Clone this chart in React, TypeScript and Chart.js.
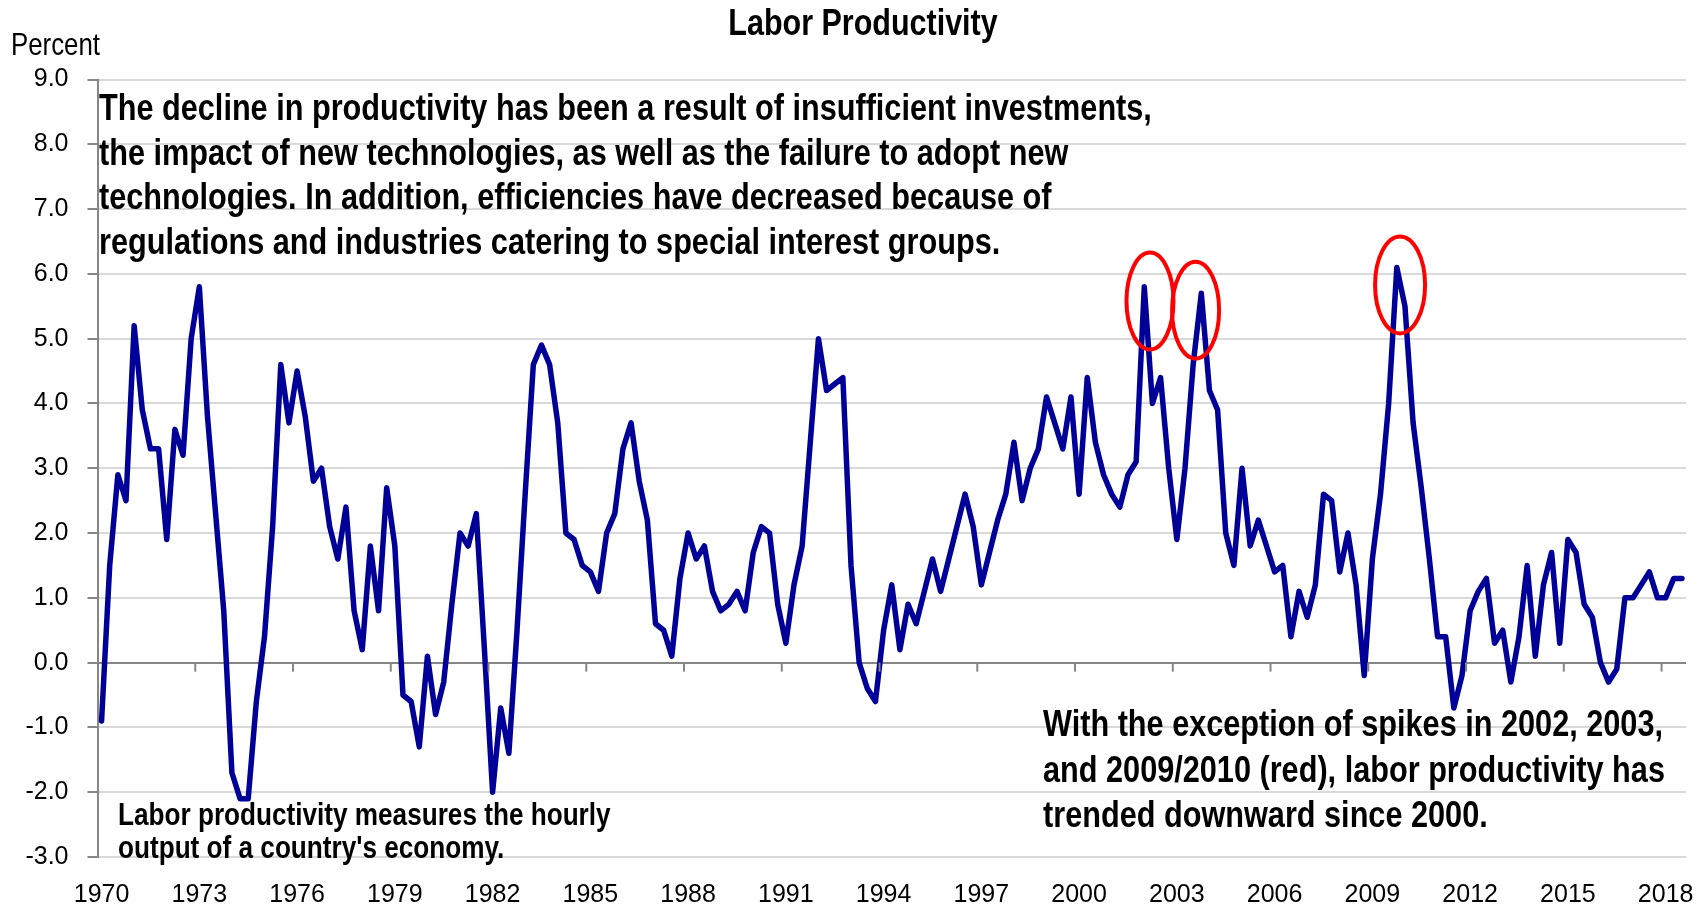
import React, { useEffect, useRef } from 'react';
import { Chart, registerables } from 'chart.js';

Chart.register(...registerables);

// ---------- data ----------
const startYear = 1970;
const tickYears = [1970, 1973, 1976, 1979, 1982, 1985, 1988, 1991, 1994, 1997, 2000, 2003, 2006, 2009, 2012, 2015, 2018];
const yTicks = [-3, -2, -1, 0, 1, 2, 3, 4, 5, 6, 7, 8, 9];

// quarterly labor productivity (percent), 1970Q1 ... 2018Q3
const p1970s = [-0.9, 1.5, 2.9, 2.5, 5.2, 3.9, 3.3, 3.3, 1.9, 3.6, 3.2, 5.0, 5.8, 3.8, 2.3, 0.8, -1.7, -2.1, -2.1, -0.6,
  0.4, 2.1, 4.6, 3.7, 4.5, 3.8, 2.8, 3.0, 2.1, 1.6, 2.4, 0.8, 0.2, 1.8, 0.8, 2.7, 1.8, -0.5, -0.6, -1.3];
const p1980s = [0.1, -0.8, -0.3, 0.9, 2.0, 1.8, 2.3, 0.2, -2.0, -0.7, -1.4, 0.5, 2.6, 4.6, 4.9, 4.6, 3.7, 2.0, 1.9, 1.5,
  1.4, 1.1, 2.0, 2.3, 3.3, 3.7, 2.8, 2.2, 0.6, 0.5, 0.1, 1.3, 2.0, 1.6, 1.8, 1.1, 0.8, 0.9, 1.1, 0.8];
const p1990s = [1.7, 2.1, 2.0, 0.9, 0.3, 1.2, 1.8, 3.4, 5.0, 4.2, 4.3, 4.4, 1.5, 0.0, -0.4, -0.6, 0.5, 1.2, 0.2, 0.9,
  0.6, 1.1, 1.6, 1.1, 1.6, 2.1, 2.6, 2.1, 1.2, 1.7, 2.2, 2.6, 3.4, 2.5, 3.0, 3.3, 4.1, 3.7, 3.3, 4.1];
const p2000s = [2.6, 4.4, 3.4, 2.9, 2.6, 2.4, 2.9, 3.1, 5.8, 4.0, 4.4, 3.0, 1.9, 3.0, 4.6, 5.7, 4.2, 3.9, 2.0, 1.5,
  3.0, 1.8, 2.2, 1.8, 1.4, 1.5, 0.4, 1.1, 0.7, 1.2, 2.6, 2.5, 1.4, 2.0, 1.2, -0.2, 1.6, 2.6, 4.0, 6.1];
const p2010s = [5.5, 3.7, 2.7, 1.6, 0.4, 0.4, -0.7, -0.2, 0.8, 1.1, 1.3, 0.3, 0.5, -0.3, 0.4, 1.5, 0.1, 1.2, 1.7, 0.3,
  1.9, 1.7, 0.9, 0.7, 0.0, -0.3, -0.1, 1.0, 1.0, 1.2, 1.4, 1.0, 1.0, 1.3, 1.3];

const productivity = [...p1970s, ...p1980s, ...p1990s, ...p2000s, ...p2010s];
const quarterLabels = productivity.map((_, i) => `${startYear + Math.floor(i / 4)} Q${(i % 4) + 1}`);

// highlighted spikes (centre in category index / value units)
const spikeIndex = [128.7, 134.3, 159.4];
const spikeValue = [5.58, 5.44, 5.83];

// ---------- text ----------
const titleText = 'Labor Productivity';
const unitText = 'Percent';
const noteTop = [
  'The decline in productivity has been a result of insufficient investments,',
  'the impact of new technologies, as well as the failure to adopt new',
  'technologies. In addition, efficiencies have decreased because of',
  'regulations and industries catering to special interest groups.',
];
const noteLeft = ['Labor productivity measures the hourly', "output of a country's economy."];
const noteRight = [
  'With the exception of spikes in 2002, 2003,',
  'and 2009/2010 (red), labor productivity has',
  'trended downward since 2000.',
];

function fontAvailable(name: string): boolean {
  const c = document.createElement('canvas').getContext('2d');
  if (!c) return false;
  const sample = 'abcdefghijklmnopqrstuvwxyzABCDEFGHIJKLMNOPQRSTUVWXYZ0123456789';
  c.font = '40px monospace';
  const base = c.measureText(sample).width;
  c.font = `40px '${name}', monospace`;
  return Math.abs(c.measureText(sample).width - base) > 0.5;
}

export default function App() {
  const ref = useRef<HTMLCanvasElement>(null);

  useEffect(() => {
    document.body.style.margin = '0';
    document.body.style.overflow = 'hidden';
    const narrow = fontAvailable('Liberation Sans Narrow');
    const FAMILY = narrow
      ? "'Liberation Sans Narrow', 'Liberation Sans', Arial, sans-serif"
      : "'Liberation Sans', Arial, sans-serif";
    const SX = narrow ? 1 : 0.82;
    const tickSize = narrow ? 30 : 25;

    const drawText = (ctx: CanvasRenderingContext2D, text: string, x: number, y: number, size: number, weight: string, align: CanvasTextAlign) => {
      ctx.save();
      ctx.font = `${weight} ${size}px ${FAMILY}`;
      ctx.fillStyle = '#000000';
      ctx.textBaseline = 'alphabetic';
      ctx.textAlign = align;
      ctx.translate(x, y);
      ctx.scale(SX, 1);
      ctx.fillText(text, 0, 0);
      ctx.restore();
    };

    const overlay = {
      id: 'overlay',
      afterDatasetsDraw(chart: any) {
        const ctx: CanvasRenderingContext2D = chart.ctx;
        const xs = chart.scales.x;
        const ys = chart.scales.y;
        // zero axis tick marks
        const y0 = ys.getPixelForValue(0);
        const half = (xs.getPixelForValue(1) - xs.getPixelForValue(0)) / 2;
        ctx.save();
        ctx.strokeStyle = '#868686';
        ctx.lineWidth = 2;
        for (let k = 1; k < tickYears.length; k++) {
          const x = xs.getPixelForValue(k * 12) - half;
          ctx.beginPath();
          ctx.moveTo(x, y0);
          ctx.lineTo(x, y0 + 9);
          ctx.stroke();
        }
        ctx.restore();
        // red ellipses
        ctx.save();
        ctx.strokeStyle = '#ff0000';
        ctx.lineWidth = 4;
        spikeIndex.forEach((ix, k) => {
          const cx = xs.getPixelForValue(ix);
          const cy = ys.getPixelForValue(spikeValue[k]);
          ctx.beginPath();
          ctx.ellipse(cx, cy, k === 2 ? 25 : 23.5, 48.5, 0, 0, Math.PI * 2);
          ctx.stroke();
        });
        ctx.restore();
      },
      afterDraw(chart: any) {
        const ctx: CanvasRenderingContext2D = chart.ctx;
        drawText(ctx, titleText, 863, 35, 37.2, 'bold', 'center');
        drawText(ctx, unitText, 11, 55, 31.5, 'normal', 'left');
        noteTop.forEach((t, i) => drawText(ctx, t, 99, 120 + i * 44.5, 37.4, 'bold', 'left'));
        noteLeft.forEach((t, i) => drawText(ctx, t, 118, 825 + i * 32.5, 31.9, 'bold', 'left'));
        noteRight.forEach((t, i) => drawText(ctx, t, 1043, 736 + i * 45.5, 37.4, 'bold', 'left'));
      },
    };

    const chart = new Chart(ref.current as HTMLCanvasElement, {
      type: 'line',
      data: {
        labels: quarterLabels,
        datasets: [
          {
            label: 'Labor Productivity',
            data: productivity,
            borderColor: '#000099',
            borderWidth: 5.5,
            pointRadius: 0,
            tension: 0,
            fill: false,
            borderJoinStyle: 'round',
            borderCapStyle: 'round',
          },
        ],
      },
      options: {
        responsive: false,
        animation: false,
        devicePixelRatio: 1,
        layout: { padding: { top: 79.5, right: 22, left: 0, bottom: 0 } },
        plugins: {
          legend: { display: false },
          tooltip: { enabled: false },
          title: { display: false },
        },
        scales: {
          x: {
            type: 'category',
            offset: true,
            grid: { display: false, drawTicks: false },
            border: { display: false },
            ticks: {
              autoSkip: false,
              maxRotation: 0,
              minRotation: 0,
              padding: 23,
              color: '#000000',
              font: { family: FAMILY, size: tickSize },
              callback: (_v: any, index: number) => (index % 12 === 0 ? String(tickYears[index / 12] ?? '') : ''),
            },
            afterFit: (s: any) => {
              s.height = 54;
            },
          },
          y: {
            min: -3,
            max: 9,
            afterBuildTicks: (s: any) => {
              s.ticks = yTicks.map((v) => ({ value: v }));
            },
            ticks: {
              padding: 19,
              color: '#000000',
              font: { family: FAMILY, size: tickSize },
              callback: (v: any) => Number(v).toFixed(1),
            },
            grid: {
              color: (c: any) => (c.tick && c.tick.value === 0 ? '#868686' : '#d9d9d9'),
              lineWidth: 2,
              drawTicks: true,
              tickLength: 10,
              tickColor: '#868686',
              tickWidth: 2,
            },
            border: { display: true, color: '#868686', width: 2 },
            afterFit: (s: any) => {
              s.width = 97.5;
            },
          },
        },
      },
      plugins: [overlay],
    } as any);

    return () => chart.destroy();
  }, []);

  return (
    <div style={{ width: 1708, height: 911, position: 'relative', background: '#ffffff' }}>
      <canvas ref={ref} width={1708} height={911} style={{ display: 'block' }} />
    </div>
  );
}
